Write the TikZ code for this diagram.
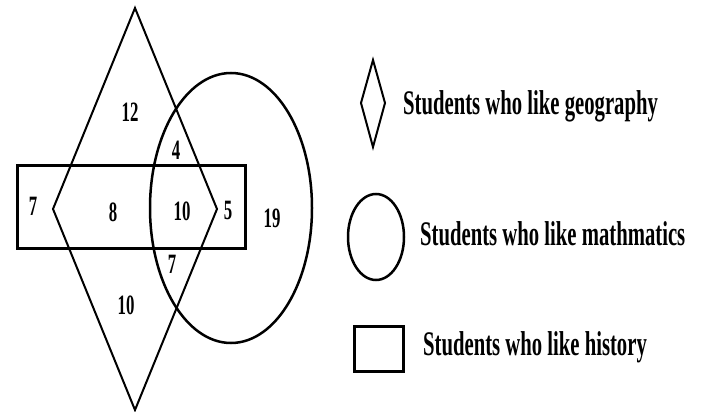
\documentclass[tikz,border=0pt]{standalone}
\usepackage{fontspec}
\setmainfont{Liberation Serif}
\newfontfamily\narrowfont{Liberation Serif}[FakeStretch=0.6]
\usetikzlibrary{positioning}

\begin{document}
\begin{tikzpicture}[x=1pt,y=-1pt,
      num/.style={font=\narrowfont\bfseries\fontsize{28}{28}\selectfont,inner sep=0pt},
      key/.style={font=\narrowfont\bfseries\fontsize{34.5}{34.5}\selectfont,inner sep=0pt,anchor=west},
      geo/.style={line width=2pt},
      math/.style={line width=2.5pt},
      hist/.style={line width=3pt}]
    \useasboundingbox (0,0) rectangle (702,412);
    % sets
    \draw[geo] (135,8) -- (217,209) -- (135,410) -- (53,209) -- cycle;
    \draw[math] (231,208) ellipse [x radius=81,y radius=135];
    \draw[hist] (17,165) rectangle (245,248);
    % counts
    \node[num] (g) at (130,112) {12};
    \node[num] (gm) at (176,150) {4};
    \node[num] (h) at (33,206) {7};
    \node[num] (gh) at (113,212) {8};
    \node[num] (ghm) at (182,211) {10};
    \node[num] (hm) at (228,210) {5};
    \node[num] (m) at (272,218) {19};
    \node[num] (gm2) at (172,264) {7};
    \node[num] (g2) at (126,305) {10};
    % legend
    \draw[geo] (373,60) -- (385,103) -- (373,147) -- (361,103) -- cycle;
    \node[key] (kgeo) at (403,106) {Students who like geography};
    \draw[math] (376,237) ellipse [x radius=28,y radius=43];
    \node[key] (kmath) at (420,234) {Students who like mathmatics};
    \draw[hist] (354,326) rectangle (403,371);
    \node[key] (khist) at (423,347) {Students who like history};
  \end{tikzpicture}
\end{document}
